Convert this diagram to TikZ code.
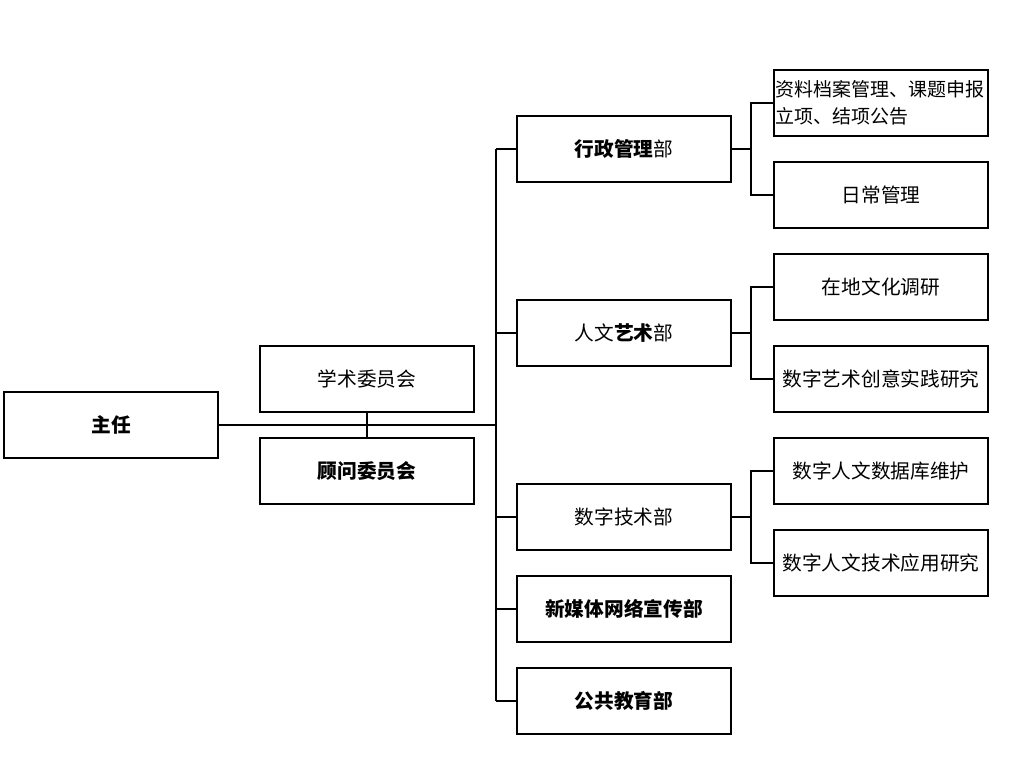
\documentclass[tikz,border=0pt]{standalone}
\usepackage{fontspec}
\setmainfont{Noto Sans CJK SC}
\usepackage{tikz}
\usetikzlibrary{positioning, calc}
\tikzset{
	orgbox/.style={draw, line width=1.4pt, minimum width=5.35cm, minimum height=1.65cm,
		inner sep=1pt, font=\fontsize{14}{19}\selectfont}
}
\tikzset{
	orgline/.style={line width=1.4pt}
}
\newcommand{\bt}[1]{\textbf{#1}}

\begin{document}
\begin{tikzpicture}[x=0.025cm, y=-0.025cm]
      \useasboundingbox (0,0) rectangle (1020,761);
      \node[orgbox] (zr) at (111,425) {\bt{主任}};
      \node[orgbox] (xs) at (367,379) {学术委员会};
      \node[orgbox] (gw) at (367,471) {\bt{顾问委员会}};
      \node[orgbox] (xz) at (624,149) {\bt{行政管理}部};
      \node[orgbox] (rw) at (624,333) {人文\bt{艺术}部};
      \node[orgbox] (sj) at (624,517) {数字技术部};
      \node[orgbox] (xm) at (624,609) {\bt{新媒体网络宣传部}};
      \node[orgbox] (gg) at (624,701) {\bt{公共教育部}};
      \node[orgbox, text width=5.25cm, align=left, inner xsep=1pt,
        font=\fontsize{13.5}{19}\selectfont] (zl) at (881,103) {资料档案管理、课题申报\\立项、结项公告};
      \node[orgbox] (rc) at (881,195) {日常管理};
      \node[orgbox] (zd) at (881,287) {在地文化调研};
      \node[orgbox] (ys) at (881,379) {数字艺术创意实践研究};
      \node[orgbox] (sk) at (881,471) {数字人文数据库维护};
      \node[orgbox] (yy) at (881,563) {数字人文技术应用研究};
      \coordinate (trunk) at (496,425);
      \draw[orgline] (zr) -- (trunk);
      \draw[orgline] (xs) -- (gw);
      \draw[orgline] (trunk |- xz) -- (trunk |- gg);
      \foreach \d in {xz, rw, sj, xm, gg}
        \draw[orgline] (\d.west) -- (\d.west -| trunk);
      \foreach \s/\d in {zl/xz, rc/xz, zd/rw, ys/rw, sk/sj, yy/sj}
        \draw[orgline] (\s.west) -- ++(-22,0) |- (\d.east);
    \end{tikzpicture}
\end{document}
